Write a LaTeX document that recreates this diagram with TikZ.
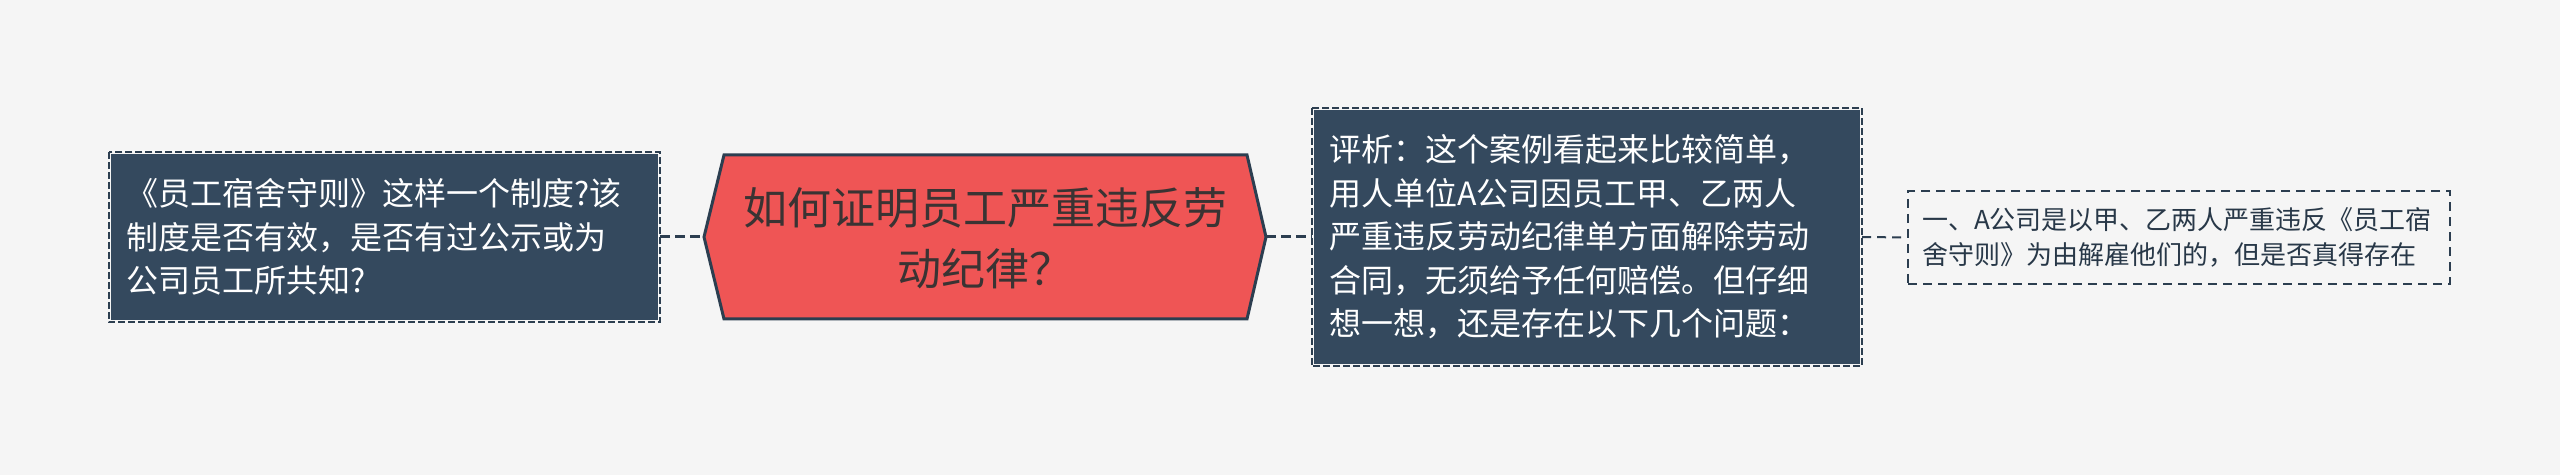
\documentclass[tikz,border=0pt]{standalone}
\usepackage{fontspec}
\setmainfont{Noto Sans CJK SC}
\newfontfamily\cjk{Noto Sans CJK SC}
\definecolor{bgc}{HTML}{F5F5F5}
\definecolor{darkfill}{HTML}{34495E}
\definecolor{darkline}{HTML}{2C3E50}
\definecolor{redfill}{HTML}{EF5555}
\definecolor{titletext}{HTML}{3A3333}
\tikzset{
  darkbox/.style={fill=darkfill, draw=bgc, line width=1.2pt, text=white, align=left, anchor=center, inner ysep=0pt},
  darkdash/.style={draw=darkline, line width=1.2pt, dash pattern=on 3.5pt off 1.5pt},
  lightbox/.style={draw=darkline, line width=1pt, dash pattern=on 4.5pt off 3pt, text=darkline!90!black, align=left, anchor=center, inner ysep=0pt},
  conn/.style={draw=darkline, line width=1.5pt, dash pattern=on 5pt off 2.5pt},
  conn2/.style={draw=darkline, line width=1pt, dash pattern=on 4.5pt off 3pt},
}
\begin{document}
\begin{tikzpicture}[x=0.5pt,y=-0.5pt]
\fill[bgc] (0,0) rectangle (2560,475);
\useasboundingbox (0,0) rectangle (2560,475);
% left box
\node[darkbox, minimum width=274.5pt, minimum height=84pt, text width=258pt, inner xsep=8.25pt,
  font=\fontsize{16pt}{21.75pt}\selectfont] (lb) at (384.5,237)
  {《员工宿舍守则》这样一个制度?该\\制度是否有效，是否有过公示或为\\公司员工所共知?};
\draw[darkdash] (lb.north west) rectangle (lb.south east);
% hexagon
\coordinate (hexL) at (704,237);
\coordinate (hexR) at (1266,237);
\fill[redfill] (hexL) -- (724,155) -- (1247,155) -- (hexR) -- (1247,319) -- (724,319) -- cycle;
\draw[darkline, line width=1.5pt, line join=miter] (hexL) -- (724,155) -- (1247,155) -- (hexR) -- (1247,319) -- (724,319) -- cycle;
\node[text=titletext, align=center, inner sep=0pt, font=\fontsize{22pt}{30.5pt}\selectfont] (title) at (985,238)
  {如何证明员工严重违反劳\\动纪律？};
% right box
\node[darkbox, minimum width=274pt, minimum height=128pt, text width=258pt, inner xsep=8pt,
  font=\fontsize{16pt}{21.75pt}\selectfont] (rb) at (1587,237)
  {评析：这个案例看起来比较简单，\\用人单位A公司因员工甲、乙两人\\严重违反劳动纪律单方面解除劳动\\合同，无须给予任何赔偿。但仔细\\想一想，还是存在以下几个问题：};
\draw[darkdash] (rb.north west) rectangle (rb.south east);
% small box
\node[lightbox, minimum width=271pt, minimum height=46.5pt, text width=257pt, inner xsep=7pt,
  font=\fontsize{13pt}{17.5pt}\selectfont] (sb) at (2179,237.5)
  {一、A公司是以甲、乙两人严重违反《员工宿\\舍守则》为由解雇他们的，但是否真得存在};
% connectors
\draw[conn] (lb.east) -- (hexL);
\draw[conn] (hexR) -- (rb.west);
\draw[conn2] (rb.east) -- (sb.west);
\end{tikzpicture}
\end{document}
